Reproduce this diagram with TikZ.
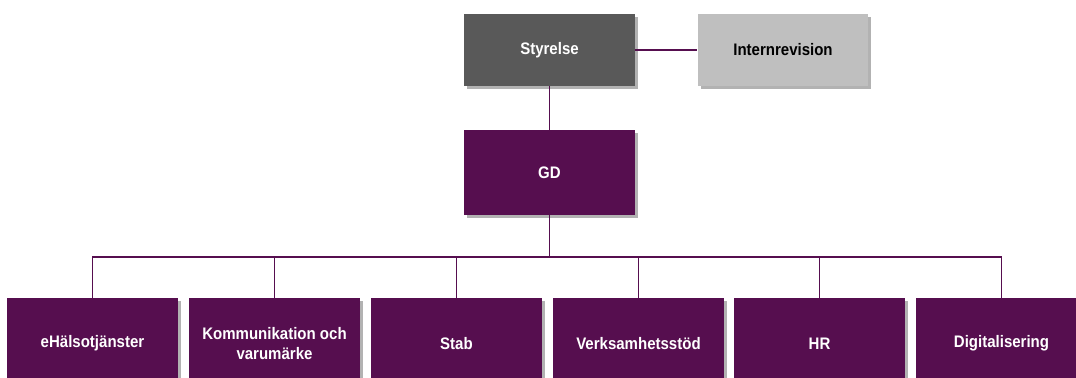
\documentclass[tikz,border=0pt]{standalone}
\usepackage{fontspec}
\setmainfont{Liberation Sans}[FakeStretch=0.9]
\usepackage{tikz}
\usetikzlibrary{shadows}
\definecolor{org_purple}{HTML}{560E4F}
\definecolor{org_darkgray}{HTML}{595959}
\definecolor{org_lightgray}{HTML}{BFBFBF}

\begin{document}
\begin{tikzpicture}[
    x=0.02cm, y=-0.02cm,
    box/.style={rectangle, minimum width=3.42cm, minimum height=1.6cm, inner sep=2pt,
        align=center, text=white, font=\fontsize{9.5}{11.5}\selectfont\bfseries,
        drop shadow={shadow xshift=0.06cm, shadow yshift=-0.06cm, fill=black, opacity=0.3}},
    unitbox/.style={box, fill=org_purple, minimum height=1.8cm},
    conn/.style={draw=org_purple, line width=0.9pt}
]
\useasboundingbox (0,0) rectangle (1076,378);

% --- Ledning ---
\node[box, fill=org_darkgray, minimum height=1.44cm] (styrelse) at (549.5,50) {Styrelse};
\node[box, fill=org_lightgray, text=black, minimum height=1.44cm] (internrev) at (783,50) {Internrevision};
\node[box, fill=org_purple, minimum height=1.7cm] (gd) at (549.5,172.5) {GD};

% --- Enheter ---
\foreach \n/\x/\txt in {1/92.5/eHälsotjänster, 2/274.5/{Kommunikation och\\varumärke},
    3/456.5/Stab, 4/638.5/Verksamhetsstöd, 5/819.5/HR, 6/1001.5/Digitalisering} {
    \node[unitbox, anchor=north] (unit\n) at (\x,298) {\txt};
}

% --- Linjer ---
\draw[conn] (styrelse.east) -- (internrev.west);
\draw[conn] (styrelse.south) -- (gd.north);
\coordinate (bus) at (549.5,257);
\draw[conn] (gd.south) -- (bus);
\foreach \n in {1,...,6} {
    \draw[conn] (bus) -| (unit\n.north);
}

\end{tikzpicture}
\end{document}
